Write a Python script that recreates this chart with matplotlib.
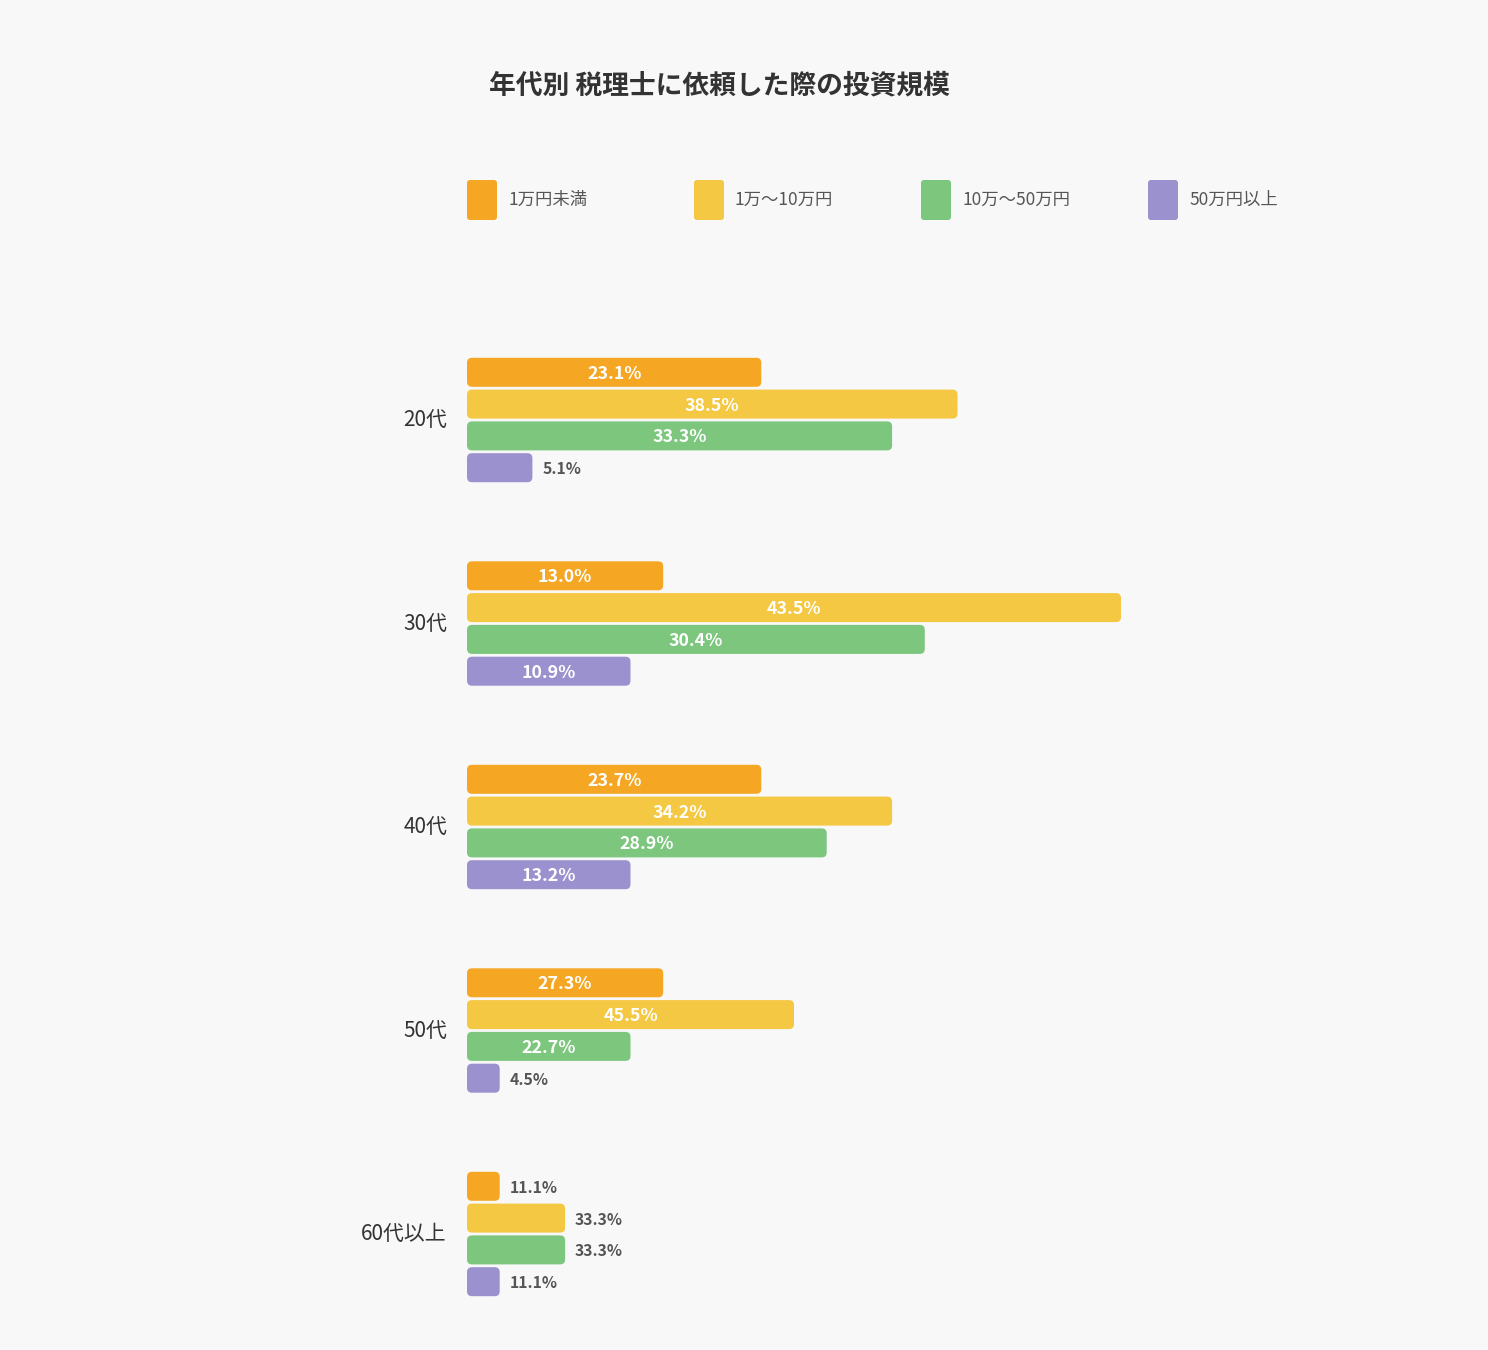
import matplotlib
matplotlib.use("Agg")
import matplotlib.pyplot as plt
from matplotlib.patches import FancyBboxPatch
import numpy as np

plt.rcParams['font.family'] = ['Noto Sans CJK JP', 'DejaVu Sans']

# ---- data ----
title = "年代別 税理士に依頼した際の投資規模"
age_groups = ["20代", "30代", "40代", "50代", "60代以上"]
series_names = ["1万円未満", "1万～10万円", "10万～50万円", "50万円以上"]
colors = ["#F5A623", "#F4C842", "#7CC67E", "#9C91CF"]
# respondent counts (bar lengths)
counts_lt1 = [9, 6, 9, 6, 1]
counts_1_10 = [15, 20, 13, 10, 3]
counts_10_50 = [13, 14, 11, 5, 3]
counts_ge50 = [2, 5, 5, 1, 1]
# percentage labels
pct_lt1 = ["23.1%", "13.0%", "23.7%", "27.3%", "11.1%"]
pct_1_10 = ["38.5%", "43.5%", "34.2%", "45.5%", "33.3%"]
pct_10_50 = ["33.3%", "30.4%", "28.9%", "22.7%", "33.3%"]
pct_ge50 = ["5.1%", "10.9%", "13.2%", "4.5%", "11.1%"]

series_counts = [counts_lt1, counts_1_10, counts_10_50, counts_ge50]
series_pcts = [pct_lt1, pct_1_10, pct_10_50, pct_ge50]

W, H = 1488, 1350
bg = "#F8F8F8"
fig = plt.figure(figsize=(W / 100, H / 100), dpi=100, facecolor=bg)

# main axes in pixel layout
px_unit = 32.7          # px per count
grp_px = 203.5          # px per group
ax_left, ax_right = 467, 1420
ax_top, ax_bot = 320, 1330
ax = fig.add_axes([ax_left / W, 1 - ax_bot / H, (ax_right - ax_left) / W, (ax_bot - ax_top) / H])
ax.set_facecolor(bg)
ax.set_xlim(0, (ax_right - ax_left) / px_unit)
first_c = 420
ax.set_ylim(len(age_groups) - 1 + (ax_bot - (first_c + 4 * grp_px)) / grp_px,
            -(first_c - ax_top) / grp_px)
for s in ax.spines.values():
    s.set_visible(False)
ax.set_xticks([])
ax.set_yticks([])

y = np.arange(len(age_groups))
bar_step = 31.8 / grp_px
bar_h = 29 / grp_px
aspect = (1 / grp_px) / (1 / px_unit)
r = 5 / px_unit
dy = 1.5 / grp_px

for j, (cnts, pcts, col) in enumerate(zip(series_counts, series_pcts, colors)):
    off = (j - 1.5) * bar_step
    bars = ax.barh(y + off, cnts, height=bar_h, color=col)
    for rect, c, p in zip(bars, cnts, pcts):
        x0, y0 = rect.get_x(), rect.get_y()
        w, h = rect.get_width(), rect.get_height()
        rect.set_visible(False)
        fb = FancyBboxPatch((x0, y0), w, h,
                            boxstyle=f"round,pad=0,rounding_size={r}",
                            mutation_aspect=aspect, facecolor=col,
                            edgecolor="none")
        ax.add_patch(fb)
        yc = y0 + h / 2 + dy
        if c >= 4:
            ax.text(x0 + w / 2, yc, p, ha="center", va="center",
                    color="white", fontsize=12.8, fontweight="bold")
        else:
            ax.text(x0 + w + 10 / px_unit, yc, p, ha="left", va="center",
                    color="#555555", fontsize=11.3, fontweight="bold")

for yi, lab in zip(y, age_groups):
    ax.text(-20 / px_unit, yi, lab, ha="right", va="center",
            fontsize=15, color="#333333", clip_on=False)

# overlay for title and legend (pixel coordinates)
ov = fig.add_axes([0, 0, 1, 1])
ov.set_xlim(0, W)
ov.set_ylim(H, 0)
ov.axis("off")
ov.patch.set_alpha(0)

ov.text(719, 85, title, ha="center", va="center", fontsize=19.3,
        fontweight="bold", color="#333333")

leg_x0, leg_step = 467, 227
for k, (name, col) in enumerate(zip(series_names, colors)):
    lx = leg_x0 + k * leg_step
    ov.add_patch(FancyBboxPatch((lx, 180), 30, 40,
                                boxstyle="round,pad=0,rounding_size=3",
                                facecolor=col, edgecolor="none"))
    ov.text(lx + 41, 200, name, ha="left", va="center", fontsize=12.5,
            color="#555555")

fig.savefig("out.png", dpi=100, facecolor=bg)
